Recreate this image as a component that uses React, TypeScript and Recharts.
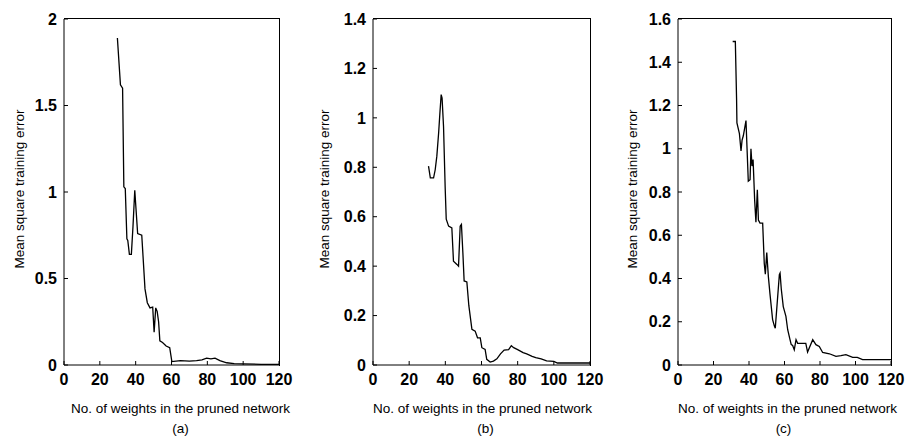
import React from 'react';
import { LineChart, Line, XAxis, YAxis, Label } from 'recharts';

// ---- data ----
const xTicks = [0, 20, 40, 60, 80, 100, 120];

const yTicksA = [0, 0.5, 1, 1.5, 2];
const yTicksB = [0, 0.2, 0.4, 0.6, 0.8, 1, 1.2, 1.4];
const yTicksC = [0, 0.2, 0.4, 0.6, 0.8, 1, 1.2, 1.4, 1.6];

const weightsA = [29.8, 31.5, 32.7, 33.4, 34.2, 35.1, 35.6, 36.5, 37.6, 38.5, 39.5, 40.2, 41.1, 43.4, 44.1, 45.2, 46.5, 48.0, 49.5, 50.3, 51.2, 52.0, 52.8, 53.5, 55.0, 57.0, 59.0, 60.2, 65, 70, 74, 77, 79.6, 82, 84.3, 87, 90.8, 95, 100, 110, 120];
const errorA = [1.89, 1.62, 1.60, 1.03, 1.02, 0.73, 0.72, 0.64, 0.64, 0.80, 1.01, 0.90, 0.76, 0.75, 0.63, 0.44, 0.36, 0.33, 0.335, 0.19, 0.33, 0.31, 0.25, 0.14, 0.13, 0.11, 0.10, 0.02, 0.025, 0.022, 0.025, 0.03, 0.04, 0.035, 0.04, 0.025, 0.013, 0.008, 0.006, 0.004, 0.003];

const weightsB = [30.7, 31.7, 33.5, 34.4, 35.3, 36.3, 37.0, 37.7, 38.2, 39.0, 39.9, 40.5, 41.8, 43.6, 44.5, 46.4, 47.3, 48.2, 48.9, 49.7, 50.4, 51.9, 53.0, 54.7, 56.5, 57.8, 59.3, 60.2, 62.0, 62.9, 64.8, 66.6, 68.5, 70.5, 72.5, 75.0, 76.5, 77.8, 80.0, 83.0, 85.0, 88.0, 90.0, 93.0, 96.0, 100.0, 102.0, 110, 120];
const errorB = [0.805, 0.757, 0.757, 0.79, 0.845, 0.94, 1.02, 1.094, 1.08, 0.966, 0.72, 0.59, 0.562, 0.555, 0.42, 0.407, 0.40, 0.562, 0.569, 0.454, 0.34, 0.336, 0.24, 0.144, 0.137, 0.11, 0.11, 0.07, 0.063, 0.023, 0.012, 0.016, 0.025, 0.045, 0.06, 0.062, 0.078, 0.07, 0.062, 0.05, 0.045, 0.035, 0.03, 0.025, 0.017, 0.015, 0.008, 0.008, 0.008];

const weightsC = [30.8, 32.3, 33.0, 33.2, 34.6, 35.5, 36.1, 36.8, 38.3, 38.9, 39.6, 40.6, 41.1, 41.7, 42.3, 43.2, 43.9, 44.7, 45.3, 46.2, 47.7, 48.6, 49.2, 50.0, 50.9, 51.8, 53.3, 54.3, 54.8, 55.6, 57.1, 57.5, 58.2, 59.3, 60.8, 61.8, 63.1, 63.8, 64.6, 65.5, 66.5, 67.4, 72.0, 73.0, 75.9, 77.7, 79.6, 81.5, 85.3, 89.0, 91.8, 94.6, 98.4, 101.0, 104.0, 110, 120];
const errorC = [1.496, 1.496, 1.23, 1.12, 1.07, 0.99, 1.04, 1.06, 1.13, 1.0, 0.85, 0.857, 1.0, 0.92, 0.95, 0.76, 0.66, 0.81, 0.67, 0.656, 0.656, 0.47, 0.42, 0.52, 0.41, 0.33, 0.21, 0.18, 0.17, 0.256, 0.418, 0.425, 0.35, 0.27, 0.225, 0.163, 0.117, 0.094, 0.09, 0.07, 0.117, 0.10, 0.10, 0.06, 0.117, 0.094, 0.086, 0.058, 0.052, 0.04, 0.043, 0.048, 0.035, 0.035, 0.025, 0.025, 0.025];

const xTitle = 'No. of weights in the pruned network';
const yTitle = 'Mean square training error';

function zip(ws: number[], es: number[]) {
  const n = Math.min(ws.length, es.length);
  const out: { w: number; e: number }[] = [];
  for (let i = 0; i < n; i++) out.push({ w: ws[i], e: es[i] });
  return out;
}

const FONT = '"Liberation Sans", Arial, Helvetica, sans-serif';
const TICK = { fill: '#000', fontSize: 16, fontFamily: FONT, fontWeight: 'bold' as const };
const X_MAX = 120;
const TICK_PX = 4;

type PanelProps = {
  left: number;
  width: number;
  plotLeft: number;
  plotRight: number;
  data: { w: number; e: number }[];
  yMax: number;
  yTicks: number[];
  tag: string;
  titleDx: number;
  tagDx: number;
  yLabelOff: number;
};

const PLOT_TOP = 19;
const PLOT_BOTTOM = 365;
const CHART_H = 440;

function Panel(p: PanelProps) {
  const margin = { top: PLOT_TOP, right: p.left + p.width - p.plotRight, bottom: 0, left: 0 };
  const yAxisW = p.plotLeft - p.left;
  const plotW = p.plotRight - p.plotLeft;
  const plotH = PLOT_BOTTOM - PLOT_TOP;
  return (
    <div style={{ position: 'absolute', left: p.left, top: 0, width: p.width, height: CHART_H }}>
      <LineChart width={p.width} height={CHART_H} data={p.data} margin={margin}>
        <XAxis
          dataKey="w"
          type="number"
          domain={[0, X_MAX]}
          ticks={xTicks}
          interval={0}
          allowDataOverflow
          height={CHART_H - PLOT_BOTTOM}
          tickSize={-TICK_PX}
          tickMargin={13}
          stroke="#000"
          tick={TICK}
        >
          <Label
            content={(lp: any) => {
              const vb = lp && lp.viewBox;
              if (!vb) return null;
              const cx = vb.x + vb.width / 2;
              return (
                <g>
                  <text x={cx + p.titleDx} y={vb.y + 48} textAnchor="middle" fontSize={13.5} fontFamily={FONT} fill="#000">
                    {xTitle}
                  </text>
                  <text x={cx + p.tagDx} y={vb.y + 68} textAnchor="middle" fontSize={13.5} fontFamily={FONT} fill="#000">
                    {p.tag}
                  </text>
                </g>
              );
            }}
          />
        </XAxis>
        <YAxis
          type="number"
          domain={[0, p.yMax]}
          ticks={p.yTicks}
          interval={0}
          allowDataOverflow
          width={yAxisW}
          tickSize={-TICK_PX}
          tickMargin={11}
          stroke="#000"
          tick={TICK}
        >
          <Label
            content={(lp: any) => {
              const vb = lp && lp.viewBox;
              if (!vb) return null;
              const cx = vb.x + vb.width - p.yLabelOff;
              const cy = vb.y + vb.height / 2 - 3;
              return (
                <text
                  x={cx}
                  y={cy}
                  transform={`rotate(-90, ${cx}, ${cy})`}
                  textAnchor="middle"
                  dominantBaseline="central"
                  fontSize={13.5}
                  fontFamily={FONT}
                  fill="#000"
                >
                  {yTitle}
                </text>
              );
            }}
          />
        </YAxis>
        <Line
          type="linear"
          dataKey="e"
          stroke="#000"
          strokeWidth={1.3}
          dot={false}
          activeDot={false}
          isAnimationActive={false}
        />
      </LineChart>
      {/* top and right edges of the axes box */}
      <div
        style={{
          position: 'absolute',
          left: yAxisW,
          top: PLOT_TOP - 1,
          width: plotW,
          height: plotH + 1,
          borderTop: '1px solid #000',
          borderRight: '1px solid #000',
          boxSizing: 'content-box',
          pointerEvents: 'none',
        }}
      />
    </div>
  );
}

export default function App() {
  return (
    <div style={{ position: 'absolute', left: 0, top: 0, width: 906, height: 440, background: '#fff' }}>
      <Panel left={0} width={300} plotLeft={64} plotRight={279} data={zip(weightsA, errorA)} yMax={2} yTicks={yTicksA} tag="(a)" titleDx={9} tagDx={9} yLabelOff={45} />
      <Panel left={300} width={306} plotLeft={373} plotRight={590} data={zip(weightsB, errorB)} yMax={1.4} yTicks={yTicksB} tag="(b)" titleDx={1} tagDx={4} yLabelOff={49} />
      <Panel left={606} width={300} plotLeft={678} plotRight={891} data={zip(weightsC, errorC)} yMax={1.6} yTicks={yTicksC} tag="(c)" titleDx={3} tagDx={-1} yLabelOff={46} />
    </div>
  );
}
